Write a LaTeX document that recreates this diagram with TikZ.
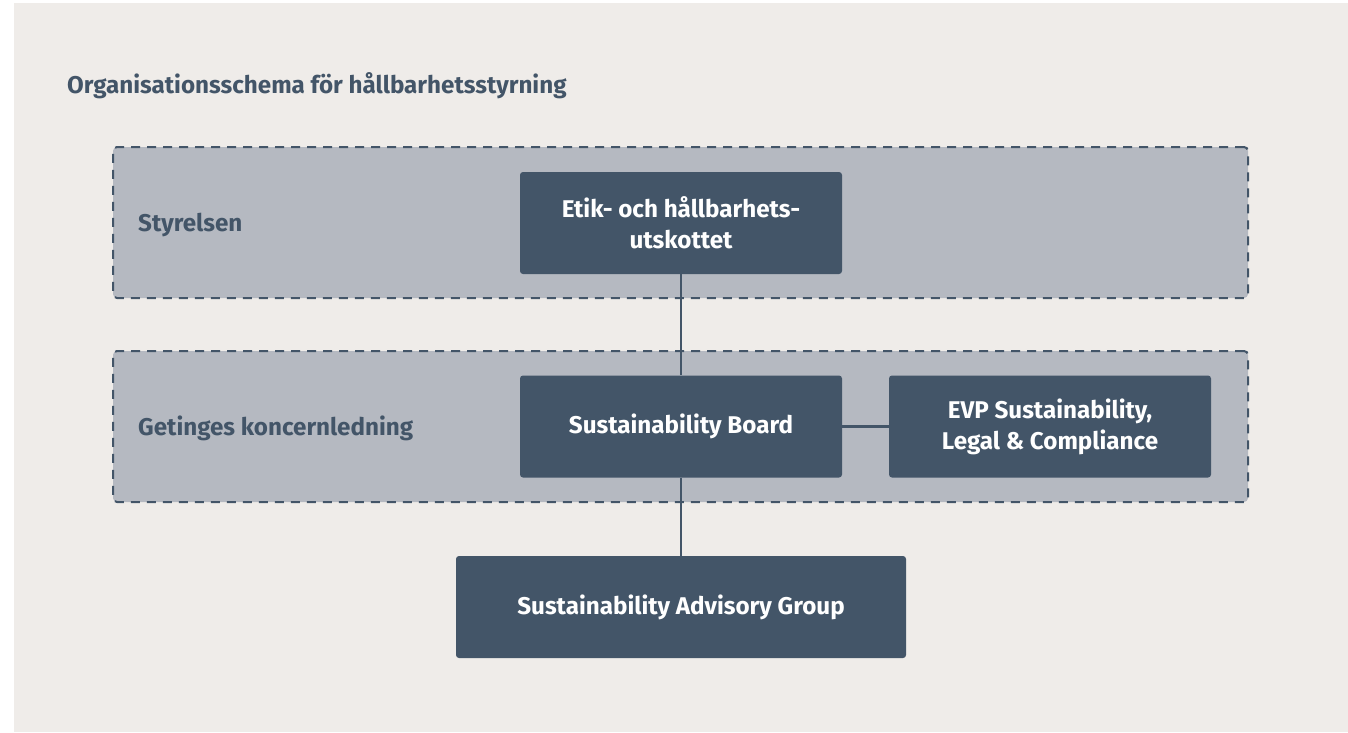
\documentclass[tikz,border=0pt]{standalone}
\usepackage{fontspec}
\setmainfont{Fira Sans}[BoldFont={Fira Sans Bold}]
\definecolor{bgc}{RGB}{239,236,233}
\definecolor{panelc}{RGB}{181,185,193}
\definecolor{darkc}{RGB}{67,85,104}
\tikzset{
  panel/.style={draw=darkc, fill=panelc, line width=2pt, dash pattern=on 9pt off 7pt, rounded corners=4pt, minimum width=1135pt, minimum height=151pt, inner sep=0pt},
  box/.style={fill=darkc, rounded corners=3pt, minimum height=102pt, inner sep=0pt, text=white, align=center, font=\fontsize{24.2}{31}\selectfont\bfseries},
  lab/.style={text=darkc, inner sep=0pt, font=\fontsize{24.2}{31}\selectfont\bfseries},
  conn/.style={draw=darkc, line width=2.2pt}
}
\begin{document}
\begin{tikzpicture}[x=1pt,y=-1pt]
\useasboundingbox (0,0) rectangle (1348,732);
\fill[white] (0,0) rectangle (1348,732);
\fill[bgc] (14,3) rectangle (1348,732);
\node[lab, anchor=base west] (title) at (67,93) {Organisationsschema för hållbarhetsstyrning};
\node[panel] (p1) at (680.5,222.5) {};
\node[panel] (p2) at (680.5,426.5) {};
\node[lab, anchor=base west] (styr) at (138,231) {Styrelsen};
\node[lab, anchor=base west] (kl) at (138,435) {Getinges koncernledning};
\node[box, minimum width=322pt] (etik) at (681,223) {Etik- och hållbarhets-\\utskottet};
\node[box, minimum width=322pt] (sb) at (681,426.5) {Sustainability Board};
\node[box, minimum width=322pt] (evp) at (1050,426.5) {EVP Sustainability,\\Legal \& Compliance};
\node[box, minimum width=450pt] (sag) at (681,607) {Sustainability Advisory Group};
\draw[conn] (etik.south) -- (sb.north);
\draw[conn] (sb.east) -- (evp.west);
\draw[conn] (sb.south) -- (sag.north);
\end{tikzpicture}
\end{document}
